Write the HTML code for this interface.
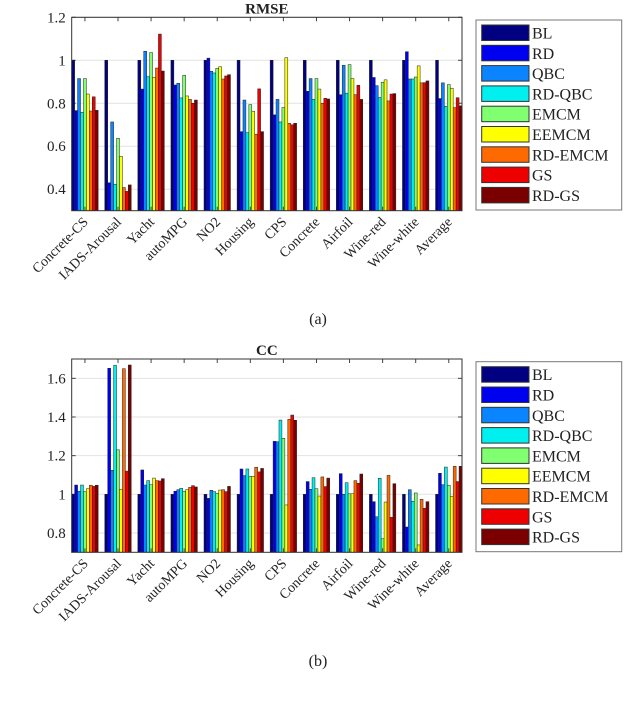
<!DOCTYPE html>
<html><head><meta charset="utf-8"><style>
body{margin:0;background:#fff;}
svg text{font-family:"Liberation Serif",serif;fill:#222;}
</style></head><body>
<svg id="c" width="640" height="704" xmlns="http://www.w3.org/2000/svg"></svg>
<script>
const categories=["Concrete-CS","IADS-Arousal","Yacht","autoMPG","NO2","Housing","CPS","Concrete","Airfoil","Wine-red","Wine-white","Average"];
const methods=["BL","RD","QBC","RD-QBC","EMCM","EEMCM","RD-EMCM","GS","RD-GS"];
const colors=["#000080","#0000f0","#0a84ff","#00f0f0","#80ff70","#ffff00","#ff6a00","#ee0000","#7a0000"];
const rmse=[
[1.0,0.766,0.915,0.758,0.915,0.843,0.764,0.83,0.767],
[1.0,0.43,0.713,0.423,0.637,0.553,0.408,0.39,0.42],
[1.0,0.866,1.042,0.924,1.036,0.921,0.964,1.122,0.95],
[1.0,0.885,0.893,0.825,0.93,0.834,0.818,0.80,0.815],
[1.0,1.01,0.949,0.941,0.963,0.97,0.913,0.927,0.933],
[1.0,0.668,0.815,0.663,0.794,0.763,0.656,0.867,0.668],
[1.0,0.746,0.818,0.713,0.78,1.012,0.707,0.70,0.707],
[1.0,0.856,0.915,0.818,0.915,0.866,0.80,0.823,0.82],
[1.0,0.84,0.977,0.847,0.98,0.915,0.84,0.884,0.818],
[1.0,0.92,0.882,0.827,0.898,0.909,0.811,0.843,0.845],
[1.0,1.04,0.913,0.913,0.922,0.974,0.895,0.896,0.904],
[1.0,0.822,0.895,0.786,0.887,0.87,0.78,0.826,0.788]];
const cc=[
[1.0,1.048,1.016,1.048,1.014,1.029,1.047,1.041,1.047],
[1.0,1.652,1.124,1.667,1.23,1.026,1.65,1.12,1.669],
[1.0,1.126,1.048,1.071,1.05,1.084,1.071,1.069,1.081],
[1.0,1.016,1.024,1.031,1.016,1.024,1.036,1.045,1.038],
[1.0,0.979,1.021,1.014,1.005,1.022,1.024,1.014,1.041],
[1.0,1.131,1.097,1.131,1.093,1.093,1.14,1.116,1.134],
[1.0,1.274,1.272,1.384,1.29,0.945,1.388,1.41,1.383],
[1.0,1.066,1.026,1.086,1.029,0.991,1.09,1.04,1.084],
[1.0,1.107,1.0,1.06,1.003,1.003,1.071,1.057,1.105],
[1.0,0.962,0.884,1.083,0.77,0.96,1.098,0.881,1.055],
[1.0,0.831,1.024,0.964,1.007,0.738,0.974,0.928,0.962],
[1.0,1.109,1.05,1.141,1.047,0.99,1.145,1.066,1.145]];
const rmseTicks=[0.4,0.6,0.8,1,1.2];
const ccTicks=[0.8,1,1.2,1.4,1.6];
const svg=document.getElementById('c');
const NS="http://www.w3.org/2000/svg";
function mk(tag,attrs,parent){const e=document.createElementNS(NS,tag);for(const k in attrs)e.setAttribute(k,attrs[k]);(parent||svg).appendChild(e);return e;}
function chart(name,data,ticks,ymin,ymax,top,bottom,title,caption,capY){
  const L=71.7,R=462;
  const g=mk('g',{});
  
  
  const x=v=>L+(v-0.6)/(11.8)*(R-L);
  const y=v=>bottom-(v-ymin)/(ymax-ymin)*(bottom-top);
  ticks.forEach(t=>{
    const gl=mk('line',{x1:L,x2:R,y1:y(t),y2:y(t),stroke:'#e2e2e2','stroke-width':1},g);
    
    
    const tl=mk('text',{x:L-6,y:y(t)+5,'text-anchor':'end','font-size':15},g);
    
    
    tl.textContent=String(t);
    mk('line',{x1:L,x2:L+4,y1:y(t),y2:y(t),stroke:'#444'},g);
    mk('line',{x1:R,x2:R-4,y1:y(t),y2:y(t),stroke:'#444'},g);
  });
  const bw=0.8/9;
  data.forEach((row,i)=>{
    row.forEach((v,j)=>{
      const x0=x(i+1-0.4+j*bw),x1=x(i+1-0.4+(j+1)*bw);
      const yt=Math.max(y(v),top);
      const b=mk('rect',{x:x0,y:yt,width:x1-x0,height:Math.max(0,bottom-yt),fill:colors[j],stroke:'#222','stroke-width':0.5},g);
      
      
    });
    const cx=x(i+1);
    mk('line',{x1:cx,x2:cx,y1:top,y2:top+4,stroke:'#444'},g);
    mk('line',{x1:cx,x2:cx,y1:bottom,y2:bottom-4,stroke:'#444'},g);
    const lab=mk('text',{x:cx+4,y:bottom+12,'text-anchor':'end','font-size':14,transform:'rotate(-45 '+(cx+4)+' '+(bottom+12)+')'},g);
    
    
    lab.textContent=categories[i];
  });
  const ax=mk('rect',{x:L,y:top,width:R-L,height:bottom-top,fill:'none',stroke:'#333','stroke-width':1},g);
  
  
  const tt=mk('text',{x:(L+R)/2,y:top-4,'text-anchor':'middle','font-size':15,'font-weight':'bold'},g);
  
  
  tt.textContent=title;
  const cp=mk('text',{x:318,y:capY,'text-anchor':'middle','font-size':16},g);
  
  
  cp.textContent=caption;
  // legend
  const ly=top+2.7;
  const lg=mk('g',{},g);
  
  
  mk('rect',{x:476,y:ly,width:145.7,height:190,fill:'#fff',stroke:'#777'},lg);
  methods.forEach((m,j)=>{
    const r=mk('rect',{x:481.7,y:ly+5+j*20.3,width:47.3,height:15.5,fill:colors[j],stroke:'#333','stroke-width':1},lg);
    
    
    const t=mk('text',{x:532,y:ly+18.5+j*20.3,'font-size':16},lg);
    
    
    t.textContent=m;
  });
}
chart('rmse',rmse,rmseTicks,0.3,1.2,17.3,210.7,'RMSE','(a)',324);
chart('cc',cc,ccTicks,0.7,1.7,359,552.3,'CC','(b)',666);
</script>
</body></html>
